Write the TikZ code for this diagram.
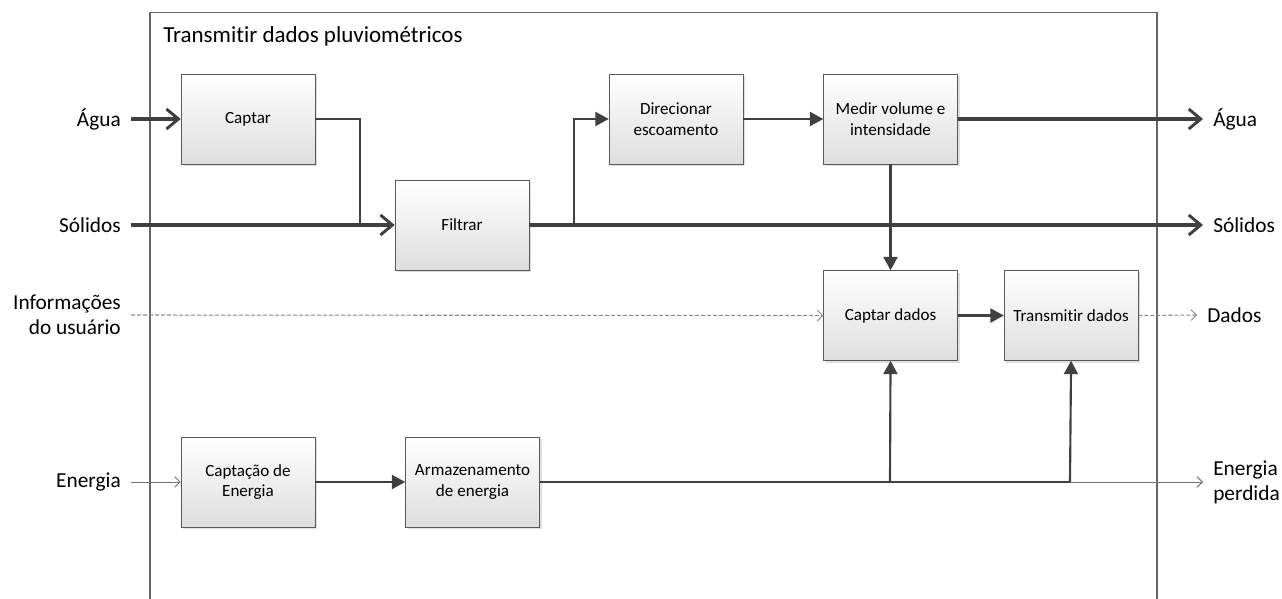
\documentclass[tikz,border=0pt]{standalone}
\usepackage{fontspec}
\setmainfont{Carlito}[Ligatures=NoCommon]
\usetikzlibrary{positioning,arrows.meta,shadows}

\begin{document}
\begin{tikzpicture}[x=0.75pt,y=-0.75pt,
  box/.style={draw=black!65,top color=white,bottom color=black!13,
              drop shadow={shadow xshift=1.5pt,shadow yshift=-1.5pt,fill=black!25,opacity=0.5},
              minimum width=100.5pt,minimum height=67.5pt,align=center,inner sep=2pt,
              font=\fontsize{12.8}{15.5}\selectfont},
  lbl/.style={font=\fontsize{16}{18.75}\selectfont,inner xsep=7.5pt,inner ysep=1pt},
  bigflow/.style={line width=2.6pt,draw=black!75,-{Straight Barb[length=9pt,width=15pt,line width=2.2pt]}},
  flow/.style={line width=1.6pt,draw=black!75,-{Triangle[length=10pt,width=10.5pt]}},
  infoflow/.style={line width=0.8pt,draw=black!45,dash pattern=on 3pt off 1.5pt,
                   -{Straight Barb[length=4pt,width=8pt,line width=0.7pt]}},
  power/.style={line width=0.7pt,draw=black!55,-{Straight Barb[length=4pt,width=8pt]}}]
 \useasboundingbox (0,0) rectangle (1282,599);
 % frame and title
 \draw[black!60,line width=0.8pt] (150,599) |- (1157,12.7) -- (1157,599);
 \node[anchor=west,inner sep=0,font=\fontsize{17.25}{20}\selectfont] (title) at (163,36) {Transmitir dados pluviométricos};
 % functions
 \node[box] (captar) at (248,119) {Captar};
 \node[box] (filtrar) at (462,225) {Filtrar};
 \node[box] (direc) at (676,119) {Direcionar\\escoamento};
 \node[box,right=60pt of direc] (medir) {Medir volume e\\intensidade};
 \node[box,below=79.5pt of medir] (cdados) {Captar dados};
 \node[box,right=34.5pt of cdados] (tdados) {Transmitir dados};
 \node[box] (capen) at (248,482) {Captação de\\Energia};
 \node[box,right=67.5pt of capen] (armaz) {Armazenamento\\de energia};
 % inputs / outputs
 \node[lbl,anchor=east] (aguain) at (131,119) {Água};
 \node[lbl,anchor=east] (solin) at (131,225) {Sólidos};
 \node[lbl,anchor=east,align=right] (infoin) at (131,315) {Informações\\do usuário};
 \node[lbl,anchor=east] (enin) at (131,482) {Energia};
 \node[lbl,anchor=west] (aguaout) at (1203,119) {Água};
 \node[lbl,anchor=west] (solout) at (1203,225) {Sólidos};
 \node[lbl,anchor=west] (dados) at (1197,315) {Dados};
 \node[lbl,anchor=west,align=left] (perdida) at (1203,482) {Energia\\perdida};
 \coordinate (jc) at (360,225);
 \coordinate (js) at (574,225);
 \coordinate (e1) at (890,482);
 \coordinate (e2) at (1070,482);
 % connectors
 \draw[bigflow] (aguain) -- (captar);
 \draw[line width=1.6pt,black!75] (captar.east) -| (jc);
 \draw[bigflow] (solin) -- (filtrar);
 \draw[bigflow] (filtrar.east) -- (solout.west);
 \draw[flow] (js) |- (direc.west);
 \draw[flow] (direc) -- (medir);
 \draw[bigflow] (medir.east) -- (aguaout.west);
 \draw[flow] (medir) -- (cdados);
 \draw[infoflow] (infoin.east) -- (cdados.west);
 \draw[flow] (cdados) -- (tdados);
 \draw[infoflow] (tdados.east) -- (dados.west);
 \draw[power] (enin) -- (capen);
 \draw[flow] (capen) -- (armaz);
 \draw[line width=1.6pt,black!75] (armaz.east) -- (e2);
 \draw[flow] (e1) -- (cdados.south);
 \draw[flow] (e2) -- (tdados.south);
 \draw[power] (e2) -- (perdida.west);
\end{tikzpicture}
\end{document}
